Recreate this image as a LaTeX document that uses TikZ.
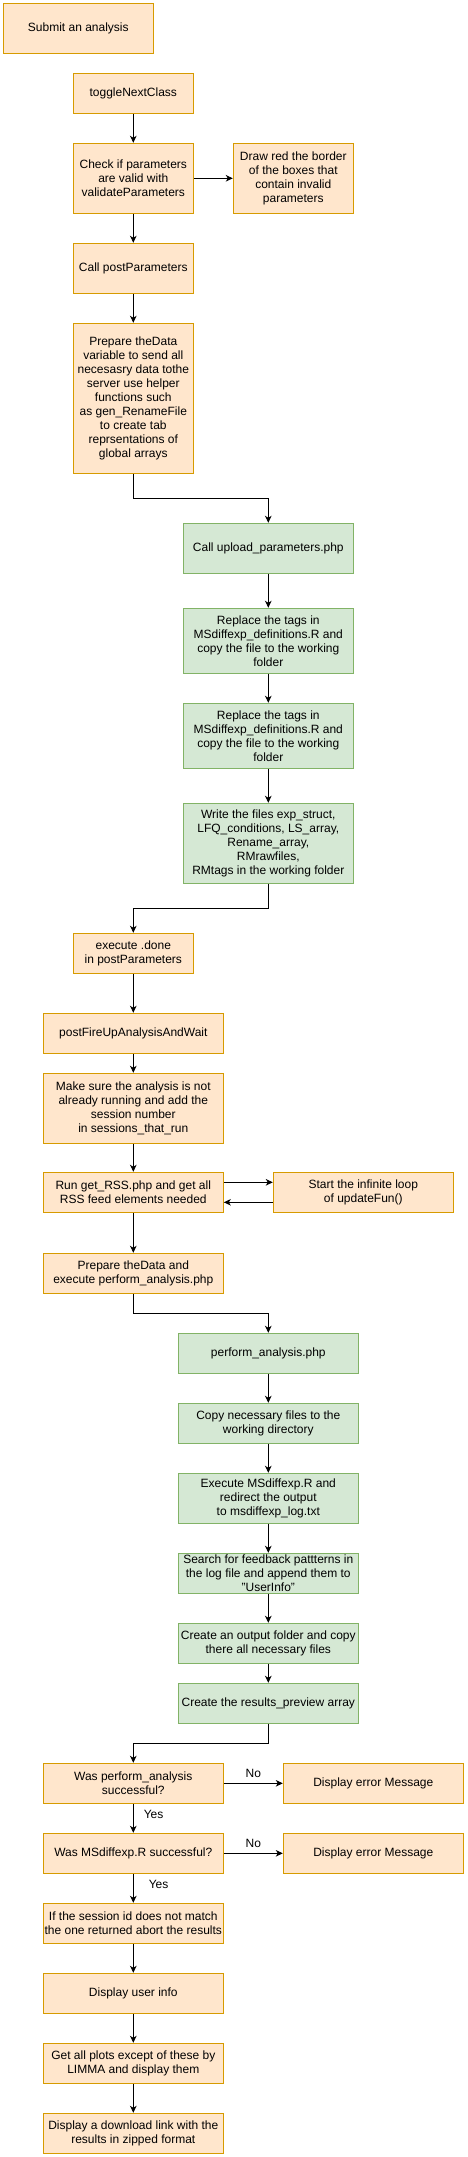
\documentclass[tikz,border=0pt]{standalone}
\usepackage{fontspec}
\setmainfont{Liberation Sans}
\usetikzlibrary{arrows.meta}
\definecolor{ofill}{HTML}{FFE6CC}
\definecolor{oline}{HTML}{D79B00}
\definecolor{gfill}{HTML}{D5E8D4}
\definecolor{gline}{HTML}{82B366}
\begin{document}
\begin{tikzpicture}[x=1pt,y=-1pt,
		font=\fontsize{12}{14}\selectfont,
		obox/.style={rectangle,draw=oline,fill=ofill,line width=1pt,inner sep=0pt,align=center},
		gbox/.style={rectangle,draw=gline,fill=gfill,line width=1pt,inner sep=0pt,align=center},
		arr/.style={line width=1pt,-{Stealth[length=7pt,width=6.5pt,inset=2pt]}},
		lbl/.style={inner sep=0pt}]
		\useasboundingbox (0,0) rectangle (467,2157);
		% first part, in the browser
		\node[obox,minimum width=150pt,minimum height=50pt](submit) at (78.3,28.3){Submit an analysis};
		\node[obox,minimum width=120pt,minimum height=40pt](toggle) at (133.3,93.3){toggleNextClass};
		\node[obox,minimum width=120pt,minimum height=70pt](check) at (133.3,178.3){Check if parameters\\are valid with\\validateParameters};
		\node[obox,minimum width=120pt,minimum height=70pt](redborder) at (293.3,178.3){Draw red the border\\of the boxes that\\contain invalid\\parameters};
		\node[obox,minimum width=120pt,minimum height=50pt](callpost) at (133.3,268.3){Call postParameters};
		\node[obox,minimum width=120pt,minimum height=150pt](prepare) at (133.3,398.3){Prepare theData\\variable to send all\\necesasry data tothe\\server use helper\\functions such\\as gen\_RenameFile\\to create tab\\reprsentations of\\global arrays};
		% upload on the server
		\node[gbox,minimum width=170pt,minimum height=50pt](upload) at (268.3,548.3){Call upload\_parameters.php};
		\node[gbox,minimum width=170pt,minimum height=65pt](replaceA) at (268.3,640.8){Replace the tags in\\MSdiffexp\_definitions.R and\\copy the file to the working\\folder};
		\node[gbox,minimum width=170pt,minimum height=65pt](replaceB) at (268.3,735.8){Replace the tags in\\MSdiffexp\_definitions.R and\\copy the file to the working\\folder};
		\node[gbox,minimum width=170pt,minimum height=80pt](writefiles) at (268.3,843.3){Write the files exp\_struct,\\LFQ\_conditions, LS\_array,\\Rename\_array,\\RMrawfiles,\\RMtags in the working folder};
		% back in the browser
		\node[obox,minimum width=120pt,minimum height=40pt](done) at (133.3,953.3){execute .done\\in postParameters};
		\node[obox,minimum width=180pt,minimum height=40pt](fireup) at (133.3,1033.3){postFireUpAnalysisAndWait};
		\node[obox,minimum width=180pt,minimum height=70pt](makesure) at (133.3,1108.3){Make sure the analysis is not\\already running and add the\\session number\\in sessions\_that\_run};
		\node[obox,minimum width=180pt,minimum height=40pt](getrss) at (133.3,1192.3){Run get\_RSS.php and get all\\RSS feed elements needed};
		\node[obox,minimum width=180pt,minimum height=40pt](loop) at (363.3,1192.3){Start the infinite loop\\of updateFun()};
		\node[obox,minimum width=180pt,minimum height=40pt](prepexec) at (133.3,1273.3){Prepare theData and\\execute perform\_analysis.php};
		% analysis on the server
		\node[gbox,minimum width=180pt,minimum height=40pt](perform) at (268.3,1353.3){perform\_analysis.php};
		\node[gbox,minimum width=180pt,minimum height=40pt](copyfiles) at (268.3,1423.3){Copy necessary files to the\\working directory};
		\node[gbox,minimum width=180pt,minimum height=50pt](execR) at (268.3,1498.3){Execute MSdiffexp.R and\\redirect the output\\to msdiffexp\_log.txt};
		\node[gbox,minimum width=180pt,minimum height=40pt](search) at (268.3,1573.3){Search for feedback pattterns in\\the log file and append them to\\"UserInfo"};
		\node[gbox,minimum width=180pt,minimum height=40pt](outfolder) at (268.3,1643.3){Create an output folder and copy\\there all necessary files};
		\node[gbox,minimum width=180pt,minimum height=40pt](preview) at (268.3,1703.3){Create the results\_preview array};
		% results
		\node[obox,minimum width=180pt,minimum height=40pt](waspa) at (133.3,1783.3){Was perform\_analysis\\successful?};
		\node[obox,minimum width=180pt,minimum height=40pt](errA) at (373.3,1783.3){Display error Message};
		\node[obox,minimum width=180pt,minimum height=40pt](wasms) at (133.3,1853.3){Was MSdiffexp.R successful?};
		\node[obox,minimum width=180pt,minimum height=40pt](errB) at (373.3,1853.3){Display error Message};
		\node[obox,minimum width=180pt,minimum height=40pt](session) at (133.3,1923.3){If the session id does not match\\the one returned abort the results};
		\node[obox,minimum width=180pt,minimum height=40pt](userinfo) at (133.3,1993.3){Display user info};
		\node[obox,minimum width=180pt,minimum height=40pt](plots) at (133.3,2063.3){Get all plots except of these by\\LIMMA and display them};
		\node[obox,minimum width=180pt,minimum height=40pt](download) at (133.3,2133.3){Display a download link with the\\results in zipped format};
		% arrows
		\draw[arr] (toggle) -- (check);
		\draw[arr] (check) -- (redborder);
		\draw[arr] (check) -- (callpost);
		\draw[arr] (callpost) -- (prepare);
		\draw[arr] (prepare.south) -- ++(0,25) -| (upload.north);
		\draw[arr] (upload) -- (replaceA);
		\draw[arr] (replaceA) -- (replaceB);
		\draw[arr] (replaceB) -- (writefiles);
		\draw[arr] (writefiles.south) -- ++(0,25) -| (done.north);
		\draw[arr] (done) -- (fireup);
		\draw[arr] (fireup) -- (makesure);
		\draw[arr] (makesure) -- (getrss);
		\draw[arr] ([yshift=10pt]getrss.east) -- ([yshift=10pt]loop.west);
		\draw[arr] ([yshift=-10pt]loop.west) -- ([yshift=-10pt]getrss.east);
		\draw[arr] (getrss) -- (prepexec);
		\draw[arr] (prepexec.south) -- ++(0,20) -| (perform.north);
		\draw[arr] (perform) -- (copyfiles);
		\draw[arr] (copyfiles) -- (execR);
		\draw[arr] (execR) -- (search);
		\draw[arr] (search) -- (outfolder);
		\draw[arr] (outfolder) -- (preview);
		\draw[arr] (preview.south) -- ++(0,20) -| (waspa.north);
		\draw[arr] (waspa) -- node[lbl,above=5pt]{No} (errA);
		\draw[arr] (waspa) -- node[lbl,pos=0.35,right=10pt]{Yes} (wasms);
		\draw[arr] (wasms) -- node[lbl,above=5pt]{No} (errB);
		\draw[arr] (wasms) -- node[lbl,pos=0.35,right=15pt]{Yes} (session);
		\draw[arr] (session) -- (userinfo);
		\draw[arr] (userinfo) -- (plots);
		\draw[arr] (plots) -- (download);
	\end{tikzpicture}
\end{document}
